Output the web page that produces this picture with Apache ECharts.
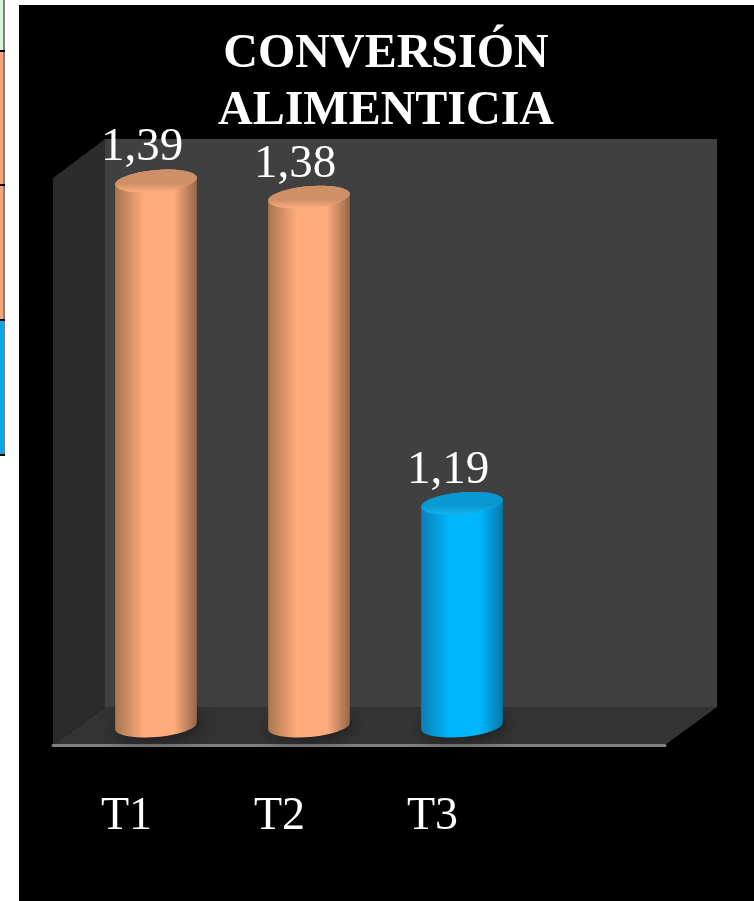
<!DOCTYPE html>
<html><head><meta charset="utf-8">
<style>html,body{margin:0;padding:0;background:#fff}#c{width:754px;height:901px}</style>
<script src="https://cdn.jsdelivr.net/npm/echarts@6/dist/echarts.min.js"></script></head>
<body><div id="c"></div>
<script>
const categories = ['T1','T2','T3',''];
const values = [1.39,1.38,1.19];
const bodyEdgeL = ['#a8764f','#a8764f','#0a7fb4'];
const bodyMid = ['#ffab7c','#ffab7c','#00b6fa'];
const bodyEdgeR = ['#96684a','#96684a','#0878aa'];
const capDark = ['#cf8f67','#cf8f67','#0a98d2'];
const capLight = ['#f7aa7e','#f7aa7e','#12b2ec'];
const titleLines = ['CONVERSIÓN','ALIMENTICIA'];

const serif = '"Liberation Serif","Times New Roman",serif';
const chart = echarts.init(document.getElementById('c'));
const TILT = -5*Math.PI/180, RX = 41, RY = 11;
function ell(cx,cy,t){
  return [cx+RX*Math.cos(t)*Math.cos(TILT)-RY*Math.sin(t)*Math.sin(TILT),
          cy+RX*Math.cos(t)*Math.sin(TILT)+RY*Math.sin(t)*Math.cos(TILT)];
}
function ellPoly(cx,cy){const p=[];for(let i=0;i<48;i++)p.push(ell(cx,cy,i/48*2*Math.PI));return p;}
function bodyPoly(cx,yTop,yBase){
  const p=[];
  for(let i=0;i<=24;i++)p.push(ell(cx,yTop,Math.PI+i/24*Math.PI));
  for(let i=0;i<=24;i++)p.push(ell(cx,yBase,i/24*Math.PI));
  return p;
}
function hGrad(a,b,c){return new echarts.graphic.LinearGradient(0,0,1,0,[
  {offset:0,color:a},{offset:.35,color:b},{offset:.72,color:b},{offset:1,color:c}]);}
const DX = 26.5, DY_TOP = -16, DY_BASE = -19;
function renderBar(params,api){
  const i=api.value(0), v=api.value(1);
  const top=api.coord([i,v]), base=api.coord([i,1.05]);
  const cx=top[0]+DX, yT=top[1]+DY_TOP, yB=base[1]+DY_BASE;
  return {type:'group',children:[
    {type:'polygon',shape:{points:ellPoly(cx+2,yB)},
      style:{fill:'#222222',shadowBlur:18,shadowColor:'#141414'}},
    {type:'polygon',shape:{points:bodyPoly(cx,yT,yB)},
      style:{fill:hGrad(bodyEdgeL[i],bodyMid[i],bodyEdgeR[i])}},
    {type:'polygon',shape:{points:ellPoly(cx,yT)},
      style:{fill:new echarts.graphic.LinearGradient(0,0,0,1,[
        {offset:0,color:capDark[i]},{offset:.6,color:capDark[i]},{offset:.95,color:capLight[i]},{offset:1,color:capLight[i]}])}},
    {type:'text',style:{text:v.toFixed(2).replace('.',','),x:cx-14,y:yT-33,
      fill:'#fff',font:'47px '+serif,align:'center',verticalAlign:'middle'}}
  ]};
}
const wall=(points,fill,z)=>({type:'polygon',z:z,silent:true,shape:{points},style:{fill}});
const cell=(x,y,w,h,fill)=>({type:'rect',z:-5,silent:true,shape:{x,y,width:w,height:h},style:{fill}});
chart.setOption({
  animation:false,
  backgroundColor:'#ffffff',
  title:{text:titleLines.join('\n'),left:381,top:21,textAlign:'center',
    textStyle:{color:'#fff',fontFamily:serif,fontWeight:'bold',fontSize:48,lineHeight:57}},
  grid:{left:53,width:612,top:181,height:564,containLabel:false},
  xAxis:{type:'category',data:categories,
    axisLine:{show:true,lineStyle:{color:'#808080',width:3}},axisTick:{show:false},
    axisLabel:{color:'#fff',fontFamily:serif,fontSize:46,margin:49,padding:[0,6,0,0]},splitLine:{show:false}},
  yAxis:{type:'value',min:1.05,max:1.4,interval:0.05,show:false,splitLine:{show:false}},
  graphic:{elements:[
    cell(19,5,735,896,'#000000'),
    wall([[105,139],[717,139],[717,707],[105,707]],'#404040',-4),
    wall([[53,178],[105,139],[105,707],[53,745]],'#2b2b2b',-4),
    wall([[53,745],[665,745],[717,707],[105,707]],'#333333',-3),
    cell(0,0,5,456,'#808080'),
    cell(0,0,3,50,'#d9f2dc'),
    cell(0,50,5,2,'#000'),
    cell(0,52,3,132,'#f4a47a'),
    cell(0,184,5,2,'#000'),
    cell(0,186,3,133,'#f4a47a'),
    cell(0,319,5,2,'#000'),
    cell(0,321,3,133,'#00a8e8'),
    cell(0,454,5,2,'#000')
  ]},
  series:[{type:'custom',coordinateSystem:'cartesian2d',clip:false,z:5,
    renderItem:renderBar,encode:{x:0,y:1},
    data:values.map((v,i)=>[i,v])}]
});
</script></body></html>
